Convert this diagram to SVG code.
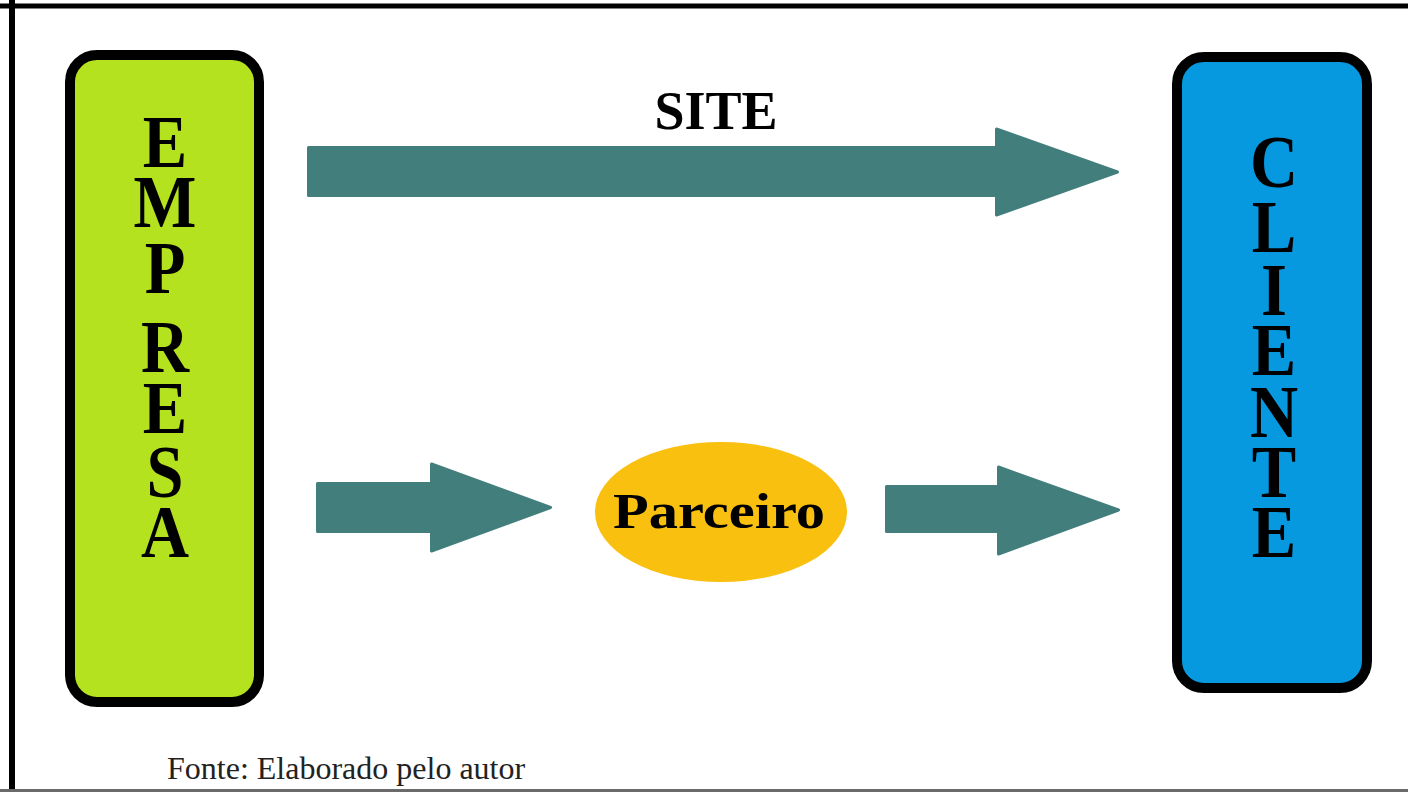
<svg xmlns="http://www.w3.org/2000/svg" width="1408" height="792" viewBox="0 0 1408 792">
  <style>
    .box { stroke: #000; stroke-width: 10; }
    .arrow { fill: #417E7C; stroke: #417E7C; stroke-width: 3; stroke-linejoin: round; }
    .big { font-family: "Liberation Serif", "Times New Roman", serif; font-weight: bold; font-size: 74px; fill: #000; text-anchor: middle; }
    .lbl { font-family: "Liberation Serif", "Times New Roman", serif; font-weight: bold; fill: #000; text-anchor: middle; }
    .note { font-family: "Liberation Serif", "Times New Roman", serif; font-size: 32px; fill: #222; }
  </style>
  <rect x="0" y="0" width="1408" height="792" fill="#fff"/>
  <g id="frame">
    <line x1="0" y1="6" x2="1408" y2="6" stroke="#000" stroke-width="5"/>
    <line x1="12" y1="0" x2="12" y2="792" stroke="#000" stroke-width="6"/>
    <line x1="0" y1="790.5" x2="1408" y2="790.5" stroke="#6a6a6a" stroke-width="3"/>
  </g>
  <g id="empresa">
    <rect class="box" x="70" y="55" width="189" height="647" rx="27" fill="#B5E21E"/>
    <text class="big" transform="translate(165,0) scale(0.9,1)"><tspan x="0" y="167">E</tspan><tspan x="0" y="227">M</tspan><tspan x="0" y="293">P</tspan><tspan x="0" y="372">R</tspan><tspan x="0" y="433">E</tspan><tspan x="0" y="497">S</tspan><tspan x="0" y="557">A</tspan></text>
  </g>
  <g id="cliente">
    <rect class="box" x="1177" y="57" width="190" height="631" rx="27" fill="#0699E0"/>
    <text class="big" transform="translate(1274,0) scale(0.9,1)"><tspan x="0" y="187">C</tspan><tspan x="0" y="252">L</tspan><tspan x="0" y="315">I</tspan><tspan x="0" y="375">E</tspan><tspan x="0" y="437">N</tspan><tspan x="0" y="497">T</tspan><tspan x="0" y="557">E</tspan></text>
  </g>
  <g id="parceiro">
    <ellipse cx="721" cy="512" rx="126" ry="70" fill="#F9C00F"/>
    <text class="lbl" x="719" y="528" font-size="50" textLength="212" lengthAdjust="spacingAndGlyphs">Parceiro</text>
  </g>
  <g id="connectors">
    <polygon class="arrow" points="308.5,147.5 996.5,147.5 996.5,129 1117.5,172 996.5,215 996.5,195.5 308.5,195.5"/>
    <text class="lbl" x="716" y="129" font-size="54">SITE</text>
    <polygon class="arrow" points="317.5,483.5 431.5,483.5 431.5,464 550.5,507.5 431.5,551 431.5,531.5 317.5,531.5"/>
    <polygon class="arrow" points="886.5,486.5 998.5,486.5 998.5,467 1118.5,510 998.5,554 998.5,531.5 886.5,531.5"/>
  </g>
  <g id="source">
    <text class="note" x="167" y="779">Fonte: Elaborado pelo autor</text>
  </g>
</svg>
